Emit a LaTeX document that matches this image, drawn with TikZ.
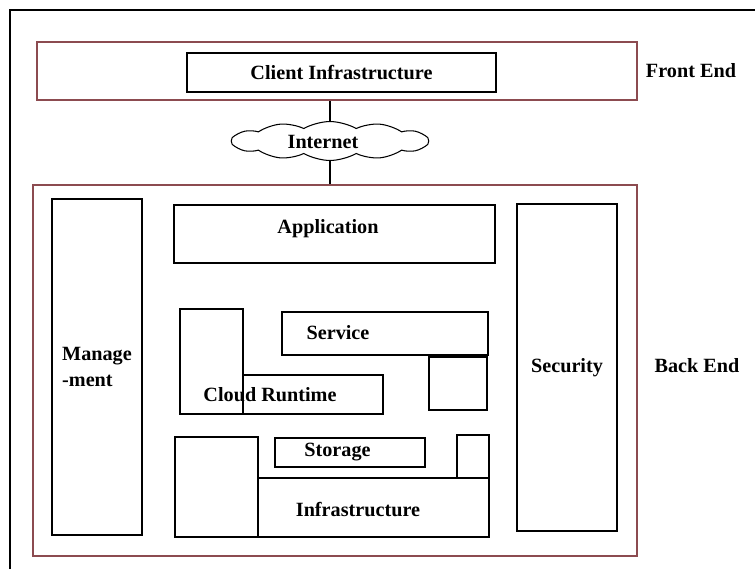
\documentclass[tikz,border=0pt]{standalone}
\usepackage{fontspec}
\setmainfont{Liberation Serif}
\usetikzlibrary{shapes.symbols}
\definecolor{endline}{RGB}{140,75,80}

\tikzset{
  box/.style={draw, line width=0.7pt, inner sep=0pt},
  endbox/.style={draw=endline, line width=0.8pt, inner sep=0pt},
  txt/.style={font=\bfseries\fontsize{11.5}{15}\selectfont, inner sep=1pt}
}

\begin{document}
\begin{tikzpicture}[x=0.02cm, y=-0.02cm, font=\bfseries\fontsize{11.5}{15}\selectfont]
    \useasboundingbox (0,0) rectangle (755,569);
    % frame of the page
    \draw[line width=0.8pt] (10,569) |- (755,10);

    % front end
    \node[endbox, minimum width=12cm, minimum height=1.16cm] (front) at (337,71) {};
    \node[box, minimum width=6.18cm, minimum height=0.78cm] (client) at (341.5,72.5) {Client Infrastructure};
    \node[txt] (frontlbl) at (691,71) {Front End};

    % internet
    \node[cloud, draw, line width=0.6pt, cloud puffs=12, cloud puff arc=60, aspect=5,
          minimum width=3.95cm, minimum height=0.78cm, inner sep=0pt] (net) at (330,141) {};
    \node[txt] (netlbl) at (323,142) {Internet};
    \draw[line width=0.7pt] (net.north) -- (net.north |- front.south);
    \draw[line width=0.7pt] (net.south) -- (net.south |- 0,185);

    % back end
    \node[endbox, minimum width=12.08cm, minimum height=7.42cm] (back) at (335,370.5) {};
    \node[txt] (backlbl) at (697,366) {Back End};

    \node[box, minimum width=1.8cm, minimum height=6.72cm, align=left] (mgmt) at (97,367) {Manage\\-ment};
    \node[box, minimum width=2cm, minimum height=6.54cm] (sec) at (567,367.5) {Security};
    \node[box, minimum width=6.42cm, minimum height=1.16cm] (app) at (334.5,234) {};
    \node[txt] (applbl) at (328,229) {Application};

    % middle part
    \node[box, minimum width=4.12cm, minimum height=0.86cm] (srv) at (385,333.5) {};
    \node[txt] (srvlbl) at (338,333) {Service};
    \node[box, minimum width=1.16cm, minimum height=1.06cm] (srvside) at (458,383.5) {};
    \node[box, minimum width=1.26cm, minimum height=2.1cm] (rtside) at (211.5,361.5) {};
    \node[box, minimum width=2.8cm, minimum height=0.78cm] (rt) at (313,394.5) {};
    \node[txt] (rtlbl) at (270,395) {Cloud Runtime};

    % lower part
    \node[box, minimum width=1.66cm, minimum height=2cm] (infside) at (216.5,487) {};
    \node[box, minimum width=4.62cm, minimum height=1.18cm] (inf) at (373.5,507.5) {};
    \node[txt] (inflbl) at (358,510) {Infrastructure};
    \node[box, minimum width=3cm, minimum height=0.58cm] (stor) at (350,452.5) {};
    \node[txt] (storlbl) at (337.5,452) {Storage};
    \node[box, minimum width=0.64cm, minimum height=0.86cm] (infcorner) at (473,456.5) {};
\end{tikzpicture}
\end{document}
